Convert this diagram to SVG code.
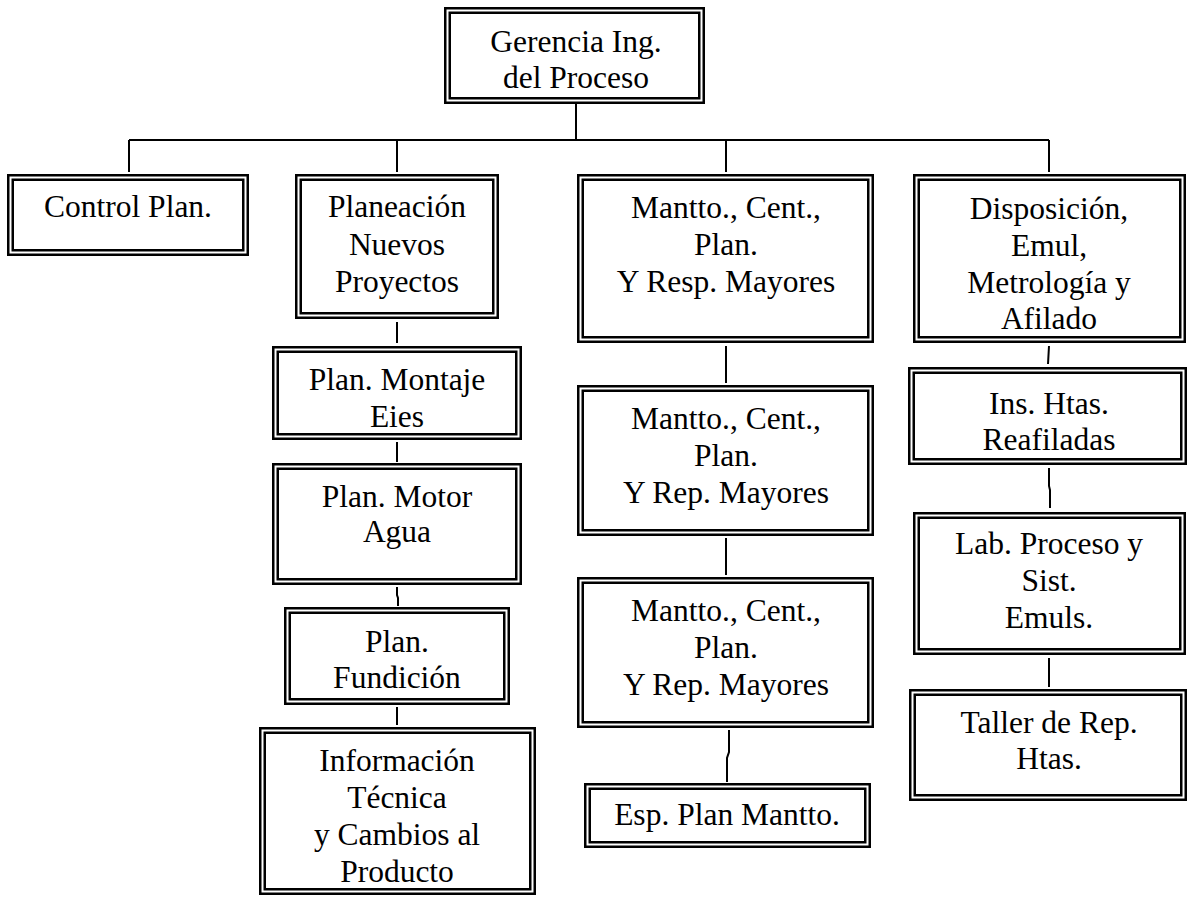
<svg xmlns="http://www.w3.org/2000/svg" width="1187" height="897" viewBox="0 0 1187 897">
<style>
.o{fill:none;stroke:#000;stroke-width:2.5}
.i{fill:none;stroke:#000;stroke-width:2.5}
.t{font-family:"Liberation Serif","Times New Roman",serif;font-size:31.5px;fill:#000;text-anchor:middle}
.c{fill:none;stroke:#000;stroke-width:2}
</style>
<rect width="1187" height="897" fill="#fff"/>
<g id="connectors">
<path class="c" d="M576 104V140M129 140H1049M129 140V172M397 140V172M726 140V172M1049 140V172"/>
<path class="c" d="M397 322V343M397 442V462M397 587V595L398 598V606M397 707V725"/>
<path class="c" d="M726 346V383M726 538V575M729 730V752L727 758V782"/>
<path class="c" d="M1049 346L1048 364M1049 468V486L1050 490V508M1049 658V687"/>
</g>
<g id="n-gerencia">
<rect class="o" x="445.25" y="8.25" width="258.5" height="94.5"/>
<rect class="i" x="449.75" y="12.75" width="249.5" height="85.5"/>
<text class="t" x="576" y="52">Gerencia Ing.</text>
<text class="t" x="576" y="88">del Proceso</text>
</g>
<g id="n-control">
<rect class="o" x="8.25" y="175.25" width="239.5" height="79.5"/>
<rect class="i" x="12.75" y="179.75" width="230.5" height="70.5"/>
<text class="t" x="128" y="217">Control Plan.</text>
</g>
<g id="n-planeacion">
<rect class="o" x="296.25" y="175.25" width="201.5" height="142.5"/>
<rect class="i" x="300.75" y="179.75" width="192.5" height="133.5"/>
<text class="t" x="397" y="217">Planeación</text>
<text class="t" x="397" y="255">Nuevos</text>
<text class="t" x="397" y="292">Proyectos</text>
</g>
<g id="n-mantto1">
<rect class="o" x="578.25" y="175.25" width="294.5" height="166.5"/>
<rect class="i" x="582.75" y="179.75" width="285.5" height="157.5"/>
<text class="t" x="726" y="218">Mantto., Cent.,</text>
<text class="t" x="726" y="255">Plan.</text>
<text class="t" x="726" y="292">Y Resp. Mayores</text>
</g>
<g id="n-disposicion">
<rect class="o" x="914.25" y="175.25" width="270.5" height="166.5"/>
<rect class="i" x="918.75" y="179.75" width="261.5" height="157.5"/>
<text class="t" x="1049" y="219">Disposición,</text>
<text class="t" x="1049" y="256">Emul,</text>
<text class="t" x="1049" y="293">Metrología y</text>
<text class="t" x="1049" y="329">Afilado</text>
</g>
<g id="n-montaje">
<rect class="o" x="273.25" y="347.25" width="247.5" height="91.5"/>
<rect class="i" x="277.75" y="351.75" width="238.5" height="82.5"/>
<text class="t" x="397" y="390">Plan. Montaje</text>
<text class="t" x="397" y="427">Eies</text>
</g>
<g id="n-motor">
<rect class="o" x="273.25" y="464.25" width="247.5" height="119.5"/>
<rect class="i" x="277.75" y="468.75" width="238.5" height="110.5"/>
<text class="t" x="397" y="507">Plan. Motor</text>
<text class="t" x="397" y="542">Agua</text>
</g>
<g id="n-fundicion">
<rect class="o" x="285.25" y="608.25" width="223.5" height="95.5"/>
<rect class="i" x="289.75" y="612.75" width="214.5" height="86.5"/>
<text class="t" x="397" y="652">Plan.</text>
<text class="t" x="397" y="688">Fundición</text>
</g>
<g id="n-informacion">
<rect class="o" x="260.25" y="728.25" width="274.5" height="165.5"/>
<rect class="i" x="264.75" y="732.75" width="265.5" height="156.5"/>
<text class="t" x="397" y="771">Información</text>
<text class="t" x="397" y="808">Técnica</text>
<text class="t" x="397" y="845">y Cambios al</text>
<text class="t" x="397" y="882">Producto</text>
</g>
<g id="n-mantto2">
<rect class="o" x="578.25" y="386.25" width="294.5" height="148.5"/>
<rect class="i" x="582.75" y="390.75" width="285.5" height="139.5"/>
<text class="t" x="726" y="429">Mantto., Cent.,</text>
<text class="t" x="726" y="466">Plan.</text>
<text class="t" x="726" y="503">Y Rep. Mayores</text>
</g>
<g id="n-mantto3">
<rect class="o" x="578.25" y="578.25" width="294.5" height="148.5"/>
<rect class="i" x="582.75" y="582.75" width="285.5" height="139.5"/>
<text class="t" x="726" y="621">Mantto., Cent.,</text>
<text class="t" x="726" y="658">Plan.</text>
<text class="t" x="726" y="695">Y Rep. Mayores</text>
</g>
<g id="n-esp">
<rect class="o" x="585.25" y="784.25" width="284.5" height="62.5"/>
<rect class="i" x="589.75" y="788.75" width="275.5" height="53.5"/>
<text class="t" x="727" y="825">Esp. Plan Mantto.</text>
</g>
<g id="n-ins">
<rect class="o" x="909.25" y="368.25" width="276.5" height="95.5"/>
<rect class="i" x="913.75" y="372.75" width="267.5" height="86.5"/>
<text class="t" x="1049" y="414">Ins. Htas.</text>
<text class="t" x="1049" y="450">Reafiladas</text>
</g>
<g id="n-lab">
<rect class="o" x="914.25" y="513.25" width="270.5" height="140.5"/>
<rect class="i" x="918.75" y="517.75" width="261.5" height="131.5"/>
<text class="t" x="1049" y="554">Lab. Proceso y</text>
<text class="t" x="1049" y="591">Sist.</text>
<text class="t" x="1049" y="628">Emuls.</text>
</g>
<g id="n-taller">
<rect class="o" x="910.25" y="690.25" width="275.5" height="109.5"/>
<rect class="i" x="914.75" y="694.75" width="266.5" height="100.5"/>
<text class="t" x="1049" y="733">Taller de Rep.</text>
<text class="t" x="1049" y="769">Htas.</text>
</g>
</svg>
